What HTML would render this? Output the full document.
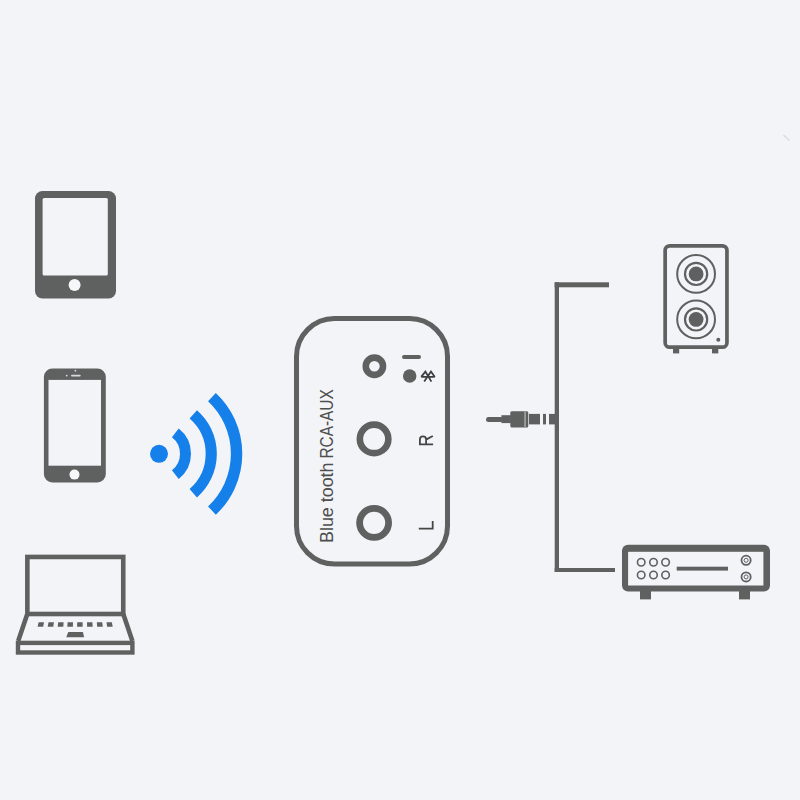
<!DOCTYPE html>
<html><head><meta charset="utf-8">
<style>
html,body{margin:0;padding:0;background:#f3f4f8;}
body{width:800px;height:800px;overflow:hidden;}
svg{display:block;}
text{font-family:"Liberation Sans",sans-serif;}
</style></head>
<body>
<svg width="800" height="800" viewBox="0 0 800 800">
<rect x="0" y="0" width="800" height="800" fill="#f3f4f8"/>
<g fill="#5f6060">
  <!-- tablet -->
  <rect x="35" y="191" width="81" height="107.5" rx="7.5"/>
  <rect x="42.6" y="198" width="65.2" height="77.5" rx="1.5" fill="#f3f4f8"/>
  <circle cx="74.6" cy="285" r="6" fill="#f6f7f9"/>
  <!-- phone -->
  <rect x="43.9" y="368.5" width="61.9" height="114" rx="8.5"/>
  <rect x="48.5" y="379.9" width="52.5" height="85.8" fill="#f3f4f8"/>
  <circle cx="74.5" cy="474.6" r="5" fill="#f6f7f9"/>
  <rect x="71" y="374.7" width="9.7" height="1.8" rx="0.9" fill="#d9dadd"/>
  <circle cx="66.7" cy="375.6" r="0.9" fill="#d9dadd"/>
  <circle cx="75.4" cy="370.7" r="0.9" fill="#d9dadd"/>
</g>
<g fill="none" stroke="#5f6060">
  <!-- laptop -->
  <rect x="27.35" y="556.95" width="95.9" height="57.05" stroke-width="4.6"/>
  <path d="M27.3 614 L18.2 641 M123.3 614 L132.4 641" stroke-width="4.6"/>
  <rect x="18" y="642.9" width="114.4" height="9.6" stroke-width="4.4"/>
</g>
<g fill="#5f6060">
  <path d="M38.6 622.3 h5.4 l-0.8 4.4 h-5.6 z"/>
  <path d="M48.5 622.3 h5.4 l-0.6 4.4 h-5.6 z"/>
  <path d="M58.2 622.3 h5.4 l-0.3 4.4 h-5.6 z"/>
  <path d="M67.6 622.3 h5.4 l-0.1 4.4 h-5.6 z"/>
  <path d="M77.2 622.3 h5.4 l0.1 4.4 h-5.6 z"/>
  <path d="M87 622.3 h5.4 l0.3 4.4 h-5.6 z"/>
  <path d="M96.8 622.3 h5.4 l0.6 4.4 h-5.6 z"/>
  <path d="M106.5 622.3 h5.4 l0.8 4.4 h-5.6 z"/>
  <path d="M68.3 632 H82.9 L84.2 637.2 H66.2 Z"/>
</g>
<!-- wifi -->
<circle cx="159" cy="453.8" r="9" fill="#1580ea"/>
<g fill="none" stroke="#1580ea">
  <path d="M175.32 432.92 A26.5 26.5 0 0 1 175.32 474.68" stroke-width="11"/>
  <path d="M193.28 414.37 A52.25 52.25 0 0 1 193.28 493.23" stroke-width="11.2"/>
  <path d="M211.92 397.05 A77.6 77.6 0 0 1 211.92 510.55" stroke-width="11.4"/>
</g>
<!-- device -->
<g fill="none" stroke="#5f6060">
  <rect x="296.5" y="318.5" width="151" height="245.5" rx="38" stroke-width="5"/>
  <circle cx="374.4" cy="366.25" r="8.6" stroke-width="6.6"/>
  <circle cx="374.1" cy="438.9" r="14.25" stroke-width="6.6"/>
  <circle cx="374.1" cy="522.8" r="14.5" stroke-width="6.8"/>
  <path d="M421.2 376.9 H434.8 M421.2 376.9 L425.4 371.6 L431.4 381.6 M434.8 376.9 L431 371.6 L424.2 381.6" stroke-width="1.8" stroke="#3e3e3e" stroke-linejoin="miter"/>
</g>
<g fill="#5f6060">
  <rect x="402" y="355.1" width="19" height="4" rx="2"/>
  <circle cx="409.7" cy="375.9" r="6.75"/>
</g>
<g fill="#4d4e4e" font-size="18.4" opacity="0.999">
<text transform="translate(333.2 543) rotate(-90)" textLength="80.5" lengthAdjust="spacingAndGlyphs">Blue tooth</text>
<text transform="translate(333.2 458.6) rotate(-90)" textLength="69.4" lengthAdjust="spacingAndGlyphs">RCA-AUX</text>
</g>
<g fill="none" stroke="#444545" stroke-width="1.8">
<path d="M418.8 528.6 H432.7 V521.1"/>
<path d="M419 444.35 H433.1 M419.9 444.35 V439.4 A3.1 3.1 0 0 1 426.1 439.4 V444.35 M426 439.6 L432.8 436"/>
</g>
<!-- cable -->
<g fill="#5f6060">
  <rect x="486" y="417" width="17" height="5" rx="2.5"/>
  <rect x="501.4" y="415.2" width="9.5" height="7.9"/>
  <rect x="510.3" y="411.3" width="18" height="16.1" rx="1.5"/>
  <rect x="524.1" y="411.3" width="1.9" height="16.1" fill="#9a9a9a"/>
  <rect x="529" y="413.9" width="11" height="10.5"/>
  <rect x="543" y="413.9" width="3" height="10.5"/>
  <rect x="549" y="413.9" width="7" height="10.5"/>
  <rect x="554.7" y="282.3" width="4.3" height="289.7"/>
  <rect x="554.7" y="282.3" width="54.3" height="5"/>
  <rect x="554.7" y="568" width="60.3" height="4"/>
</g>
<!-- speaker -->
<g fill="none" stroke="#5f6060">
  <rect x="665.15" y="245.85" width="61.8" height="101.3" rx="4.5" stroke-width="3.7"/>
  <circle cx="696.1" cy="273.9" r="18.9" stroke-width="2"/>
  <circle cx="696.1" cy="273.9" r="11.1" stroke-width="2.2"/>
  <circle cx="696.1" cy="319.4" r="18.9" stroke-width="2"/>
  <circle cx="696.1" cy="319.4" r="11.1" stroke-width="2.2"/>
</g>
<g fill="#5f6060">
  <circle cx="696.1" cy="273.9" r="7.4"/>
  <circle cx="696.1" cy="319.4" r="7.4"/>
  <circle cx="718.3" cy="339.7" r="2"/>
  <rect x="673" y="348" width="6.2" height="5.4"/>
  <rect x="712" y="348" width="6.3" height="5.4"/>
</g>
<!-- amp -->
<g fill="#5f6060">
  <rect x="622" y="544.8" width="148" height="46.8" rx="6"/>
  <rect x="628.1" y="551.8" width="135.3" height="33.7" fill="#f3f4f8"/>
  <rect x="640" y="590" width="11" height="9.4"/>
  <rect x="739" y="590" width="11" height="9.4"/>
  <rect x="676.7" y="566.7" width="51.3" height="3.9"/>
</g>
<g fill="none" stroke="#5f6060">
  <circle cx="641.2" cy="562.3" r="3.75" stroke-width="1.6"/>
  <circle cx="653.5" cy="562.3" r="3.75" stroke-width="1.6"/>
  <circle cx="665.6" cy="562.3" r="3.75" stroke-width="1.6"/>
  <circle cx="641.2" cy="575" r="3.75" stroke-width="1.6"/>
  <circle cx="653.5" cy="575" r="3.75" stroke-width="1.6"/>
  <circle cx="665.6" cy="575" r="3.75" stroke-width="1.6"/>
  <circle cx="746.1" cy="560.3" r="4.6" stroke-width="1.8"/>
  <circle cx="746.1" cy="576.9" r="4.6" stroke-width="1.8"/>
  <circle cx="746.1" cy="560.3" r="2" stroke-width="1"/>
  <circle cx="746.1" cy="576.9" r="2" stroke-width="1"/>
</g>
<path d="M783.5 135 L789.5 140.5" stroke="#d5d9e1" stroke-width="1.2"/>
</svg>
</body></html>
